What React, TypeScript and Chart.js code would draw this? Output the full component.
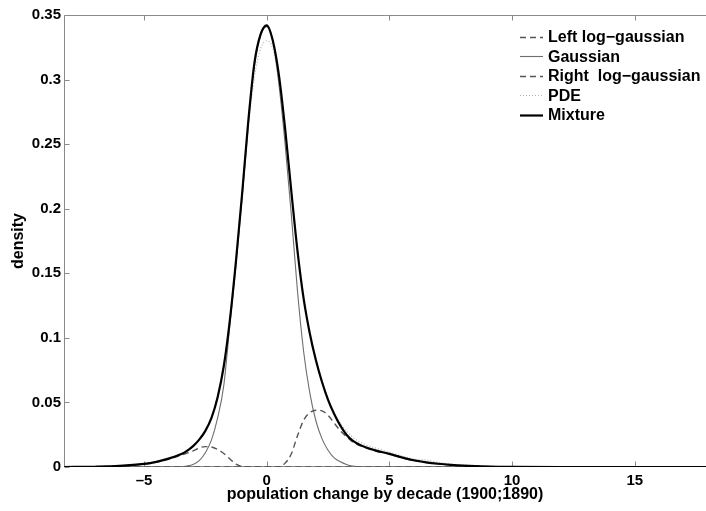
import { useEffect, useRef } from 'react';
import { Chart, registerables } from 'chart.js';

Chart.register(...registerables);

// ---- data ----
const X_VALUES = [
  -8.25, -7, -6, -5, -4.5, -4, -3.5, -3.25, -3, -2.75, -2.5, -2.25, -2, -1.75, -1.5, -1.25, -1,
  -0.75, -0.5, -0.25, 0, 0.25, 0.5, 0.75, 1, 1.25, 1.5, 1.75, 2, 2.25, 2.5, 2.75, 3, 3.25,
  3.5, 4, 4.5, 5, 5.5, 6, 6.5, 7, 7.5, 8, 9, 10, 12, 14, 16, 17.9,
];
const LEFT_LOG_GAUSSIAN = [
  0, 0.0002, 0.0008, 0.0023, 0.0038, 0.006, 0.009, 0.0108, 0.0125, 0.0148, 0.0158, 0.0155, 0.0135, 0.0105, 0.0062, 0.0022, 0.0003,
  0, 0, 0, 0, 0, 0, 0, 0, 0, 0, 0, 0, 0, 0, 0, 0, 0,
  0, 0, 0, 0, 0, 0, 0, 0, 0, 0, 0, 0, 0, 0, 0, 0,
];
const GAUSSIAN = [
  0, 0, 0, 0, 0, 0, 0.0002, 0.0008, 0.002, 0.005, 0.011, 0.021, 0.038, 0.063, 0.110, 0.157, 0.209,
  0.265, 0.311, 0.334, 0.341, 0.330, 0.296, 0.250, 0.196, 0.137, 0.090, 0.058, 0.036, 0.022, 0.013, 0.007, 0.004, 0.002,
  0.0008, 0, 0, 0, 0, 0, 0, 0, 0, 0, 0, 0, 0, 0, 0, 0,
];
const RIGHT_LOG_GAUSSIAN = [
  0, 0, 0, 0, 0, 0, 0, 0, 0, 0, 0, 0, 0, 0, 0, 0, 0,
  0, 0, 0, 0, 0, 0, 0.003, 0.010, 0.024, 0.036, 0.042, 0.044, 0.0435, 0.040, 0.034, 0.028, 0.0235,
  0.0195, 0.015, 0.012, 0.010, 0.0072, 0.005, 0.0035, 0.0024, 0.0016, 0.001, 0.0004, 0.0001, 0, 0, 0, 0,
];
const PDE = [
  0, 0.0003, 0.0009, 0.0026, 0.0042, 0.0066, 0.0100, 0.0128, 0.0165, 0.0215, 0.0285, 0.038, 0.055, 0.079, 0.115, 0.160, 0.210,
  0.262, 0.302, 0.324, 0.330, 0.324, 0.298, 0.260, 0.214, 0.170, 0.133, 0.105, 0.084, 0.067, 0.053, 0.042, 0.034, 0.028,
  0.023, 0.0175, 0.0143, 0.0115, 0.0085, 0.0062, 0.0055, 0.0036, 0.0022, 0.0015, 0.0008, 0.0003, 0.0001, 0, 0, 0,
];
const MIXTURE = [
  0, 0.0002, 0.0008, 0.0024, 0.004, 0.0065, 0.0098, 0.0125, 0.0162, 0.0212, 0.028, 0.038, 0.054, 0.078, 0.114, 0.160, 0.212,
  0.268, 0.313, 0.335, 0.342, 0.330, 0.303, 0.262, 0.214, 0.168, 0.131, 0.104, 0.083, 0.066, 0.052, 0.041, 0.032, 0.025,
  0.0205, 0.0155, 0.0125, 0.0102, 0.0075, 0.0052, 0.0036, 0.0025, 0.0017, 0.0011, 0.0004, 0.0001, 0, 0, 0, 0,
];

const X_TICKS = [-5, 0, 5, 10, 15];
const Y_TICKS = [0, 0.05, 0.1, 0.15, 0.2, 0.25, 0.3, 0.35];
const LEGEND_LABELS = ['Left log−gaussian', 'Gaussian', 'Right  log−gaussian', 'PDE', 'Mixture'];

const FONT_FAMILY = "'Liberation Sans', Arial, Helvetica, sans-serif";
const AXIS_GREY = '#8a8a8a';

const toPoints = (ys: number[]) => X_VALUES.map((x, i) => ({ x, y: ys[i] }));

// series styles, same order as LEGEND_LABELS
const STYLES = [
  { color: '#555555', width: 1.4, dash: [6, 4] },
  { color: '#6e6e6e', width: 1.1, dash: [] as number[] },
  { color: '#555555', width: 1.4, dash: [6, 4] },
  { color: '#b0b0b0', width: 1.2, dash: [1, 2] },
  { color: '#000000', width: 2.2, dash: [] as number[] },
];
const SERIES = [LEFT_LOG_GAUSSIAN, GAUSSIAN, RIGHT_LOG_GAUSSIAN, PDE, MIXTURE];
const DRAW_ORDER = [2, 3, 2, 1, 0];

// MATLAB-ish frame: top/left/bottom lines + inward ticks
const framePlugin = {
  id: 'frame',
  beforeDatasetsDraw(chart: Chart) {
    const { ctx, chartArea: a, scales } = chart;
    const l = Math.round(a.left) + 0.5;
    const t = Math.round(a.top) + 0.5;
    const b = Math.round(a.bottom) - 0.5;
    ctx.save();
    ctx.strokeStyle = AXIS_GREY;
    ctx.lineWidth = 1;
    ctx.beginPath();
    ctx.moveTo(l, b);
    ctx.lineTo(l, t);
    ctx.lineTo(a.right + 2, t);
    ctx.moveTo(l, b);
    ctx.lineTo(a.right + 2, b);
    X_TICKS.forEach(v => {
      const px = Math.round(scales.x.getPixelForValue(v)) + 0.5;
      ctx.moveTo(px, b);
      ctx.lineTo(px, b - 5);
      ctx.moveTo(px, t);
      ctx.lineTo(px, t + 5);
    });
    Y_TICKS.forEach(v => {
      const py = Math.round(scales.y.getPixelForValue(v)) + 0.5;
      ctx.moveTo(l, py);
      ctx.lineTo(l + 5, py);
    });
    ctx.stroke();
    ctx.restore();
  },
};

// legend in the top right corner, no box
const legendPlugin = {
  id: 'cornerLegend',
  afterDraw(chart: Chart) {
    const { ctx } = chart;
    ctx.save();
    ctx.font = `bold 16px ${FONT_FAMILY}`;
    ctx.textBaseline = 'middle';
    ctx.fillStyle = '#000';
    LEGEND_LABELS.forEach((label, i) => {
      const y = 36.5 + i * 19.6;
      const s = STYLES[i];
      ctx.strokeStyle = s.color;
      ctx.lineWidth = s.width;
      ctx.setLineDash(s.dash);
      ctx.beginPath();
      ctx.moveTo(520, Math.round(y) + 0.5);
      ctx.lineTo(543, Math.round(y) + 0.5);
      ctx.stroke();
      ctx.fillText(label, 548, y + 1);
    });
    ctx.restore();
  },
};

export default function App() {
  const canvasRef = useRef<HTMLCanvasElement>(null);

  useEffect(() => {
    document.body.style.margin = '0';
    if (!canvasRef.current) return;
    const tickFont = { family: FONT_FAMILY, size: 15, weight: 'bold' as const };
    const titleFont = { family: FONT_FAMILY, size: 16, weight: 'bold' as const };
    const chart = new Chart(canvasRef.current, {
      type: 'line',
      data: {
        datasets: SERIES.map((ys, i) => ({
          label: LEGEND_LABELS[i],
          data: toPoints(ys),
          borderColor: STYLES[i].color,
          borderWidth: STYLES[i].width,
          borderDash: STYLES[i].dash,
          pointRadius: 0,
          fill: false,
          cubicInterpolationMode: 'monotone' as const,
          order: DRAW_ORDER[i],
        })),
      },
      options: {
        animation: false,
        responsive: true,
        maintainAspectRatio: false,
        devicePixelRatio: 1,
        layout: { padding: { top: 15, left: 0, right: 0, bottom: 0 } },
        plugins: {
          legend: { display: false },
          tooltip: { enabled: false },
        },
        scales: {
          x: {
            type: 'linear',
            min: -8.26,
            max: 17.9,
            grid: { display: false, drawTicks: false },
            border: { display: false },
            afterFit: s => { s.height = 44; },
            afterBuildTicks: s => { s.ticks = X_TICKS.map(value => ({ value })); },
            ticks: {
              font: tickFont,
              color: '#000',
              padding: 5,
              maxRotation: 0,
              callback: v => (Number(v) < 0 ? `–${Math.abs(Number(v))}` : `${v}`),
            },
            title: {
              display: true,
              text: 'population change by decade (1900;1890)',
              font: titleFont,
              color: '#000',
              padding: { top: 0, bottom: 7 },
            },
          },
          y: {
            type: 'linear',
            min: 0,
            max: 0.35,
            grid: { display: false, drawTicks: false },
            border: { display: false },
            afterFit: s => { s.width = 64; },
            afterBuildTicks: s => { s.ticks = Y_TICKS.map(value => ({ value })); },
            ticks: {
              font: tickFont,
              color: '#000',
              padding: 3,
              callback: v => `${Number(Number(v).toFixed(2))}`,
            },
            title: {
              display: true,
              text: 'density',
              font: titleFont,
              color: '#000',
              padding: { top: 9, bottom: 0 },
            },
          },
        },
      },
      plugins: [framePlugin, legendPlugin],
    });
    return () => chart.destroy();
  }, []);

  return (
    <div style={{ position: 'relative', width: 706, height: 511 }}>
      <canvas ref={canvasRef} />
    </div>
  );
}
